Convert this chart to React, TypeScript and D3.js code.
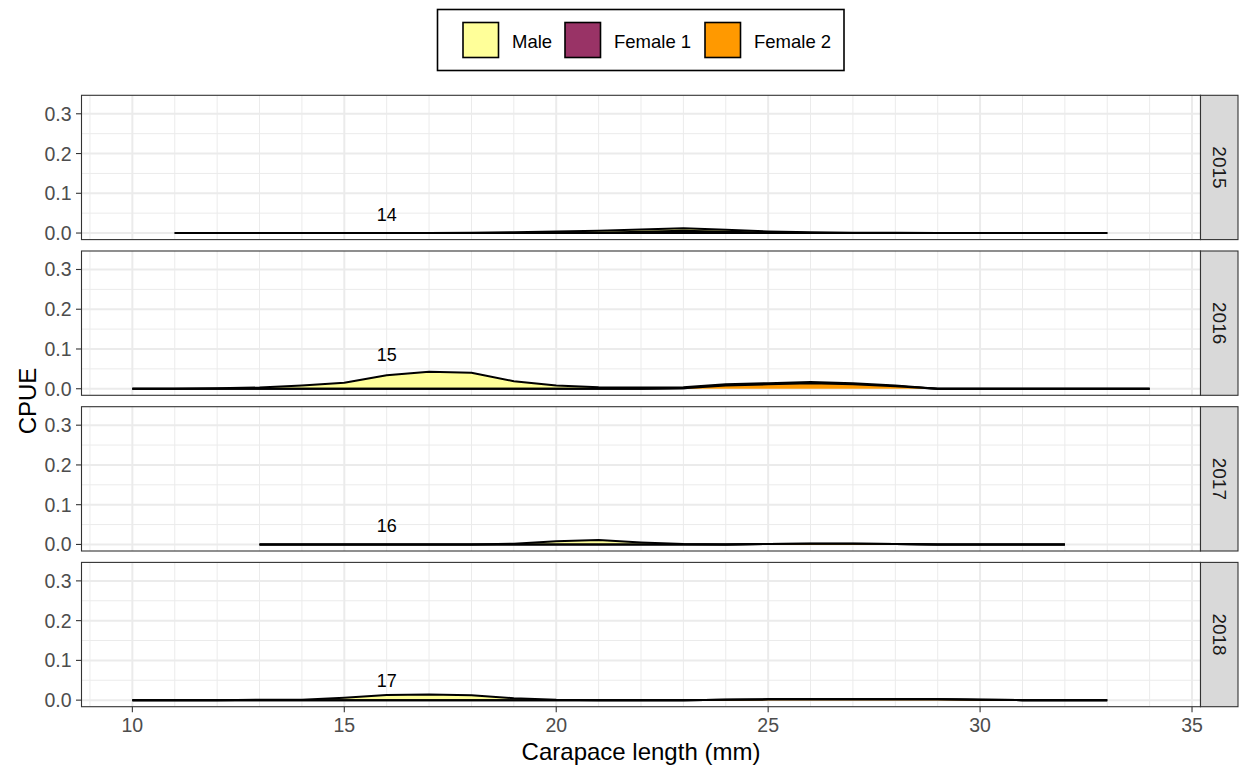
import React from "react";
import * as d3 from "d3";

// ---------- DATA ----------
const years = ["2015", "2016", "2017", "2018"];
const cohortLabels = ["14", "15", "16", "17"];
const cohortLabelX = 16;
const cohortLabelY = [0.046, 0.085, 0.047, 0.047];

const seriesNames = ["Male", "Female 1", "Female 2"];
const seriesColors = ["#FFFF99", "#993366", "#FF9900"];

// length range (mm) covered by each year's curves
const xStart = [11, 10, 13, 10];
const xEnd = [33, 34, 32, 33];

// CPUE per 1-mm class, starting at xStart of that year
const male2015 = [0, 0, 0, 0, 0, 0, 0, 0.001, 0.002, 0.004, 0.005, 0.006, 0.006, 0.005, 0.003, 0.002, 0.001, 0.001, 0, 0, 0, 0, 0];
const female1_2015 = [0, 0, 0, 0, 0, 0, 0, 0, 0, 0, 0.001, 0.003, 0.006, 0.003, 0.001, 0, 0, 0, 0, 0, 0, 0, 0];
const female2_2015 = [0, 0, 0, 0, 0, 0, 0, 0, 0, 0, 0, 0, 0, 0, 0, 0, 0, 0, 0, 0, 0, 0, 0];

const male2016 = [0, 0, 0.001, 0.003, 0.008, 0.015, 0.034, 0.043, 0.04, 0.019, 0.008, 0.004, 0.003, 0.003, 0.003, 0.003, 0.003, 0.003, 0.002, 0, 0, 0, 0, 0, 0];
const female1_2016 = [0, 0, 0, 0, 0, 0, 0, 0, 0, 0, 0, 0, 0, 0, 0, 0, 0, 0, 0, 0, 0, 0, 0, 0, 0];
const female2_2016 = [0, 0, 0, 0, 0, 0, 0, 0, 0, 0, 0, 0, 0, 0.001, 0.008, 0.011, 0.014, 0.011, 0.006, 0, 0, 0, 0, 0, 0];

const male2017 = [0, 0, 0, 0, 0, 0, 0.002, 0.008, 0.011, 0.005, 0.001, 0, 0, 0, 0, 0, 0, 0, 0, 0];
const female1_2017 = [0, 0, 0, 0, 0, 0, 0, 0, 0, 0, 0, 0, 0, 0, 0, 0, 0, 0, 0, 0];
const female2_2017 = [0, 0, 0, 0, 0, 0, 0, 0, 0, 0, 0, 0, 0.001, 0.002, 0.002, 0.001, 0, 0, 0, 0];

const male2018 = [0, 0, 0, 0.001, 0.001, 0.006, 0.013, 0.014, 0.012, 0.005, 0.001, 0, 0, 0, 0, 0, 0, 0, 0, 0, 0, 0, 0, 0];
const female1_2018 = [0, 0, 0, 0, 0, 0, 0, 0, 0, 0, 0, 0, 0, 0, 0, 0, 0, 0, 0, 0, 0, 0, 0, 0];
const female2_2018 = [0, 0, 0, 0, 0, 0, 0, 0, 0, 0, 0, 0, 0, 0, 0.001, 0.002, 0.002, 0.002, 0.002, 0.002, 0.001, 0, 0, 0];

const maleByYear = [male2015, male2016, male2017, male2018];
const female1ByYear = [female1_2015, female1_2016, female1_2017, female1_2018];
const female2ByYear = [female2_2015, female2_2016, female2_2017, female2_2018];

const xTicks = [10, 15, 20, 25, 30, 35];
const yTicks = [0, 0.1, 0.2, 0.3];

// ---------- LAYOUT ----------
const W = 1241;
const H = 771;
const panelLeft = 81.5;
const panelRight = 1200.5;
const panelTops = [95.3, 251, 406.7, 562.4];
const panelH = 144.3;
const stripW = 37.5;
const legendKeyX = [463, 565, 705];
const FONT = "'Liberation Sans', Arial, Helvetica, sans-serif";

export default function App() {
  const x = d3.scaleLinear().domain([8.8, 35.2]).range([panelLeft, panelRight]);
  const xMinor = d3.range(9, 36).filter((v) => v % 5 !== 0);
  const yMinorVals = [0.05, 0.15, 0.25];
  const keys = ["female2", "female1", "male"]; // bottom -> top
  const keyColor: Record<string, string> = {
    male: seriesColors[0],
    female1: seriesColors[1],
    female2: seriesColors[2],
  };

  return (
    <div>
      <style>{`body{margin:0;}`}</style>
      <svg width={W} height={H} style={{ display: "block", fontFamily: FONT }}>
        <rect x={0} y={0} width={W} height={H} fill="#fff" />
        {/* legend */}
        <rect x={437.5} y={9.5} width={406.5} height={61} fill="#fff" stroke="#000" strokeWidth={1.6} />
        {seriesNames.map((n, i) => (
          <g key={n}>
            <rect x={legendKeyX[i]} y={22.5} width={35.5} height={35} fill={seriesColors[i]} stroke="#000" strokeWidth={1.6} />
            <text x={legendKeyX[i] + 49} y={47.5} fontSize={18.5} fill="#000">{n}</text>
          </g>
        ))}

        {years.map((yr, p) => {
          const top = panelTops[p];
          const y = d3.scaleLinear().domain([-0.0165, 0.3465]).range([top + panelH, top]);
          const xs = d3.range(xStart[p], xEnd[p] + 1);
          const rows = xs.map((xv, i) => ({
            x: xv,
            male: maleByYear[p][i],
            female1: female1ByYear[p][i],
            female2: female2ByYear[p][i],
          }));
          const stacked = d3.stack<any>().keys(keys)(rows);
          const area = d3
            .area<any>()
            .x((d) => x(d.data.x))
            .y0((d) => y(d[0]))
            .y1((d) => y(d[1]));
          const line = d3
            .line<any>()
            .x((d) => x(d.data.x))
            .y((d) => y(d[1]));
          const clipId = `clip${p}`;
          return (
            <g key={yr}>
              <defs>
                <clipPath id={clipId}>
                  <rect x={panelLeft} y={top} width={panelRight - panelLeft} height={panelH} />
                </clipPath>
              </defs>
              <rect x={panelLeft} y={top} width={panelRight - panelLeft} height={panelH} fill="#fff" />
              {/* minor grid */}
              {xMinor.map((v) => (
                <line key={"xm" + v} x1={x(v)} x2={x(v)} y1={top} y2={top + panelH} stroke="#EBEBEB" strokeWidth={1} />
              ))}
              {yMinorVals.map((v) => (
                <line key={"ym" + v} x1={panelLeft} x2={panelRight} y1={y(v)} y2={y(v)} stroke="#EBEBEB" strokeWidth={1} />
              ))}
              {/* major grid */}
              {xTicks.map((v) => (
                <line key={"xM" + v} x1={x(v)} x2={x(v)} y1={top} y2={top + panelH} stroke="#EBEBEB" strokeWidth={2} />
              ))}
              {yTicks.map((v) => (
                <line key={"yM" + v} x1={panelLeft} x2={panelRight} y1={y(v)} y2={y(v)} stroke="#EBEBEB" strokeWidth={2} />
              ))}
              <g clipPath={`url(#${clipId})`}>
                {stacked
                  .slice()
                  .reverse()
                  .map((s) => (
                    <g key={s.key}>
                      <path d={area(s) || ""} fill={keyColor[s.key]} stroke="none" />
                      <path d={line(s) || ""} fill="none" stroke="#000" strokeWidth={2} strokeLinejoin="round" />
                    </g>
                  ))}
                <text x={x(cohortLabelX)} y={y(cohortLabelY[p])} fontSize={18} textAnchor="middle" dominantBaseline="central" fill="#000">
                  {cohortLabels[p]}
                </text>
              </g>
              <rect x={panelLeft} y={top} width={panelRight - panelLeft} height={panelH} fill="none" stroke="#333333" strokeWidth={1.1} />
              {/* strip */}
              <rect x={panelRight} y={top} width={stripW} height={panelH} fill="#D9D9D9" stroke="#333333" strokeWidth={1.1} />
              <text
                transform={`translate(${panelRight + stripW / 2},${top + panelH / 2}) rotate(90)`}
                fontSize={19}
                textAnchor="middle"
                dominantBaseline="central"
                fill="#1A1A1A"
              >
                {yr}
              </text>
              {/* y axis */}
              {yTicks.map((v) => (
                <g key={"yt" + v}>
                  <line x1={panelLeft - 5.5} x2={panelLeft} y1={y(v)} y2={y(v)} stroke="#333333" strokeWidth={1.1} />
                  <text x={panelLeft - 10} y={y(v)} fontSize={19.5} textAnchor="end" dominantBaseline="central" fill="#4D4D4D">
                    {d3.format(".1f")(v)}
                  </text>
                </g>
              ))}
            </g>
          );
        })}

        {/* x axis */}
        {xTicks.map((v) => {
          const bottom = panelTops[3] + panelH;
          return (
            <g key={"xt" + v}>
              <line x1={x(v)} x2={x(v)} y1={bottom} y2={bottom + 5.5} stroke="#333333" strokeWidth={1.1} />
              <text x={x(v)} y={bottom + 25.5} fontSize={19.5} textAnchor="middle" fill="#4D4D4D">
                {v}
              </text>
            </g>
          );
        })}
        <text x={(panelLeft + panelRight) / 2} y={760} fontSize={24} textAnchor="middle" fill="#000">
          Carapace length (mm)
        </text>
        <text transform={`translate(35.5,${(panelTops[0] + panelTops[3] + panelH) / 2}) rotate(-90)`} fontSize={24} textAnchor="middle" fill="#000">
          CPUE
        </text>
      </svg>
    </div>
  );
}
